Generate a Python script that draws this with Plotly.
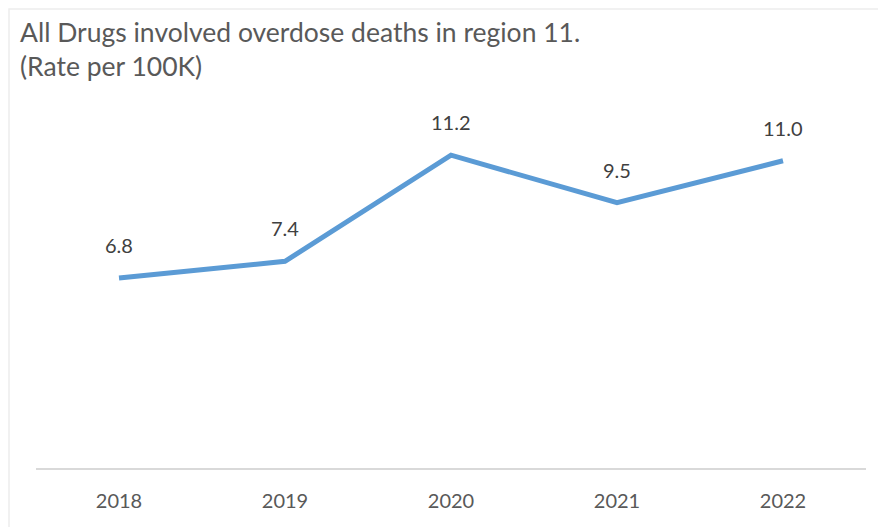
import plotly.graph_objects as go

years = ["2018", "2019", "2020", "2021", "2022"]
rates = [6.8, 7.4, 11.2, 9.5, 11.0]
labels = ["6.8", "7.4", "11.2", "9.5", "11.0"]

FONT = "Lato"

# page body has an 8px margin, so figure coordinates are offset by 8px
W, H = 878, 519
L, R, T, B = 28, 20, 69, 59
PW = W - L - R
PH = H - T - B

fig = go.Figure()

fig.add_trace(
    go.Scatter(
        x=years,
        y=rates,
        mode="lines",
        line=dict(color="#5B9BD5", width=5),
        hoverinfo="skip",
        showlegend=False,
    )
)

# data labels above each point (x as category index)
for i, (val, lab) in enumerate(zip(rates, labels)):
    fig.add_annotation(
        x=i, y=val, text=lab, showarrow=False, yshift=33,
        font=dict(family=FONT, size=20, color="#404040"),
    )

# title as a left-aligned annotation
fig.add_annotation(
    text="All Drugs involved overdose deaths in region 11.<br>(Rate per 100K)",
    xref="paper", yref="paper",
    x=(10 - L) / PW, xanchor="left",
    y=1 + (T - 6) / PH, yanchor="top",
    align="left", showarrow=False,
    font=dict(family=FONT, size=26.5, color="#595959"),
)

# light chart border
fig.add_shape(
    type="rect", xref="paper", yref="paper",
    x0=(1 - L) / PW, x1=1.05, y0=-0.2, y1=1 + (T - 1) / PH,
    line=dict(color="#EDEDED", width=1.5), fillcolor="rgba(0,0,0,0)",
    layer="below",
)

fig.update_layout(
    width=W,
    height=H,
    margin=dict(l=L, r=R, t=T, b=B),
    paper_bgcolor="white",
    plot_bgcolor="white",
)

fig.update_xaxes(
    type="category",
    range=[-0.5, 4.5],
    showgrid=False,
    showline=True,
    linecolor="#D9D9D9",
    linewidth=2,
    ticks="",
    ticklabelstandoff=14,
    tickfont=dict(family=FONT, size=20, color="#595959"),
)
fig.update_yaxes(
    range=[0, 14],
    showgrid=False,
    showticklabels=False,
    zeroline=False,
    showline=False,
)

fig.write_html("out.html")
